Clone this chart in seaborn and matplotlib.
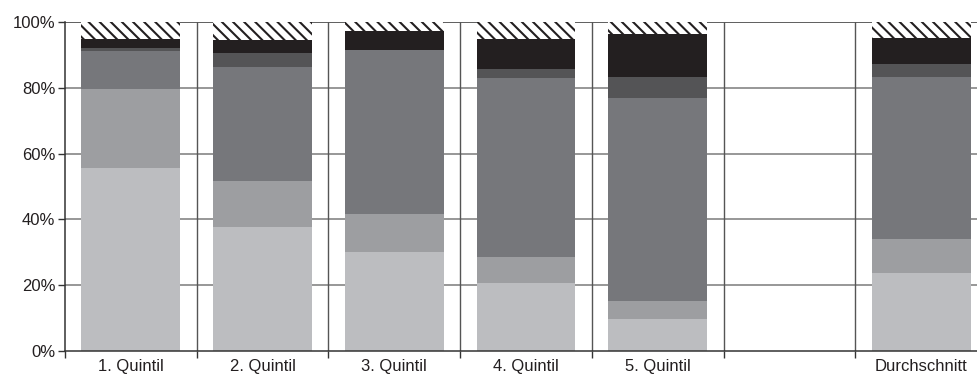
import numpy as np
import pandas as pd
import matplotlib
matplotlib.use("Agg")
import matplotlib.pyplot as plt
import seaborn as sns

# Income quintiles and their stacked shares (percent of each bar)
categories = ["1. Quintil", "2. Quintil", "3. Quintil", "4. Quintil", "5. Quintil", "Durchschnitt"]
slot_order = ["1. Quintil", "2. Quintil", "3. Quintil", "4. Quintil", "5. Quintil", " ", "Durchschnitt"]

seg_1 = [55.6, 37.7, 30.0, 20.6, 9.7, 23.7]
seg_2 = [24.0, 13.9, 11.6, 7.9, 5.5, 10.3]
seg_3 = [11.5, 34.6, 49.8, 54.4, 61.7, 49.2]
seg_4 = [1.0, 4.3, 0.0, 2.7, 6.4, 4.0]
seg_5 = [2.6, 4.1, 5.8, 9.1, 13.1, 8.0]
seg_rest = [5.3, 5.4, 2.8, 5.3, 3.6, 4.8]

segments = [seg_1, seg_2, seg_3, seg_4, seg_5, seg_rest]
colors = ["#bcbdc0", "#9d9ea1", "#76777b", "#545456", "#231f20", "white"]

y_ticks = [0, 20, 40, 60, 80, 100]
y_labels = ["0%", "20%", "40%", "60%", "80%", "100%"]

sns.set_style("white")
plt.rcParams["font.family"] = ["Liberation Sans", "DejaVu Sans"]
plt.rcParams["hatch.linewidth"] = 1.5
plt.rcParams["hatch.color"] = "#231f20"

fig = plt.figure(figsize=(9.78, 3.80), dpi=100)
left_px, right_px, top_px, bottom_px = 65, 987, 22, 351
ax = fig.add_axes([left_px / 978, (380 - bottom_px) / 380,
                   (right_px - left_px) / 978, (bottom_px - top_px) / 380])

# cumulative tops, drawn from the highest layer down so lower layers overlay
cum = np.cumsum(np.array(segments), axis=0)
for i in range(len(segments) - 1, -1, -1):
    df = pd.DataFrame({"cat": categories, "top": cum[i]})
    kw = dict(hatch="\\\\\\", edgecolor="#231f20", linewidth=0) if i == len(segments) - 1 else dict(linewidth=0)
    sns.barplot(data=df, x="cat", y="top", order=slot_order, color=colors[i],
                saturation=1, width=0.75, ax=ax, zorder=2, **kw)

for p in ax.patches:
    if p.get_hatch():
        p.set_edgecolor("#231f20")
        p.set_linewidth(0)

ax.set_xlim(-0.5, 6.5)
ax.set_ylim(0, 100)

# grid: horizontal lines and category separators
for y in [20, 40, 60, 80]:
    ax.axhline(y, color="#7a7a7a", lw=1.1, zorder=0)
ax.axhline(100, color="#333333", lw=1.1, zorder=0)
for x in np.arange(0.5, 6.5, 1.0):
    ax.axvline(x, color="#555555", lw=1.0, zorder=0)

for s in ["top", "right"]:
    ax.spines[s].set_visible(False)
for s in ["left", "bottom"]:
    ax.spines[s].set_color("#333333")
    ax.spines[s].set_linewidth(1.1)

ax.set_yticks(y_ticks)
ax.set_yticklabels(y_labels, fontsize=12, color="#231f20")
ax.tick_params(axis="y", length=5, width=1, color="#333333", pad=2, left=True)

ax.set_xticks(range(len(slot_order)))
ax.set_xticklabels(slot_order, fontsize=12, color="#231f20")
ax.set_xticks(np.arange(-0.5, 7.0, 1.0), minor=True)
ax.tick_params(axis="x", which="major", length=0, pad=6)
ax.tick_params(axis="x", which="minor", length=5, width=1, color="#333333", bottom=True)

ax.set_xlabel("")
ax.set_ylabel("")

fig.savefig("out.png", dpi=100)
